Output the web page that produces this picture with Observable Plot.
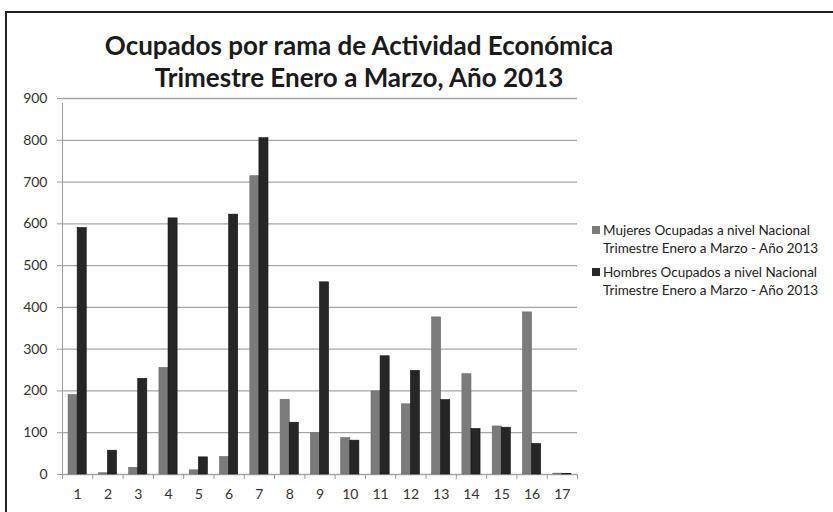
<!DOCTYPE html>
<html>
<head>
<meta charset="utf-8">
<script src="https://cdn.jsdelivr.net/npm/d3@7"></script>
<script src="https://cdn.jsdelivr.net/npm/@observablehq/plot@0.6"></script>
<style>
  html, body { margin: 0; padding: 0; background: #fff; }
  #wrap { position: relative; width: 833px; height: 512px; overflow: hidden; font-family: Lato, "Open Sans", sans-serif; }
  #border { position: absolute; left: 5px; top: 11px; width: 900px; height: 600px; border: 2px solid #222; box-sizing: border-box; }
  #title { position: absolute; left: 0; width: 718px; top: 29px; text-align: center; font-weight: bold; font-size: 26px; line-height: 32px; color: #1a1a1a; }
  #legend { position: absolute; left: 592px; top: 221px; font-size: 13.5px; line-height: 18px; color: #222; }
  .item { position: relative; padding-left: 11px; margin-bottom: 6px; }
  .sw { position: absolute; left: 0; top: 5px; width: 8px; height: 8px; }
  svg { position: absolute; left: 0; top: 0; }
</style>
</head>
<body>
<div id="wrap">
  <div id="border"></div>
  <div id="title">Ocupados por rama de Actividad Económica<br>Trimestre Enero a Marzo, Año 2013</div>
  <div id="legend"></div>
</div>
<script>
const categories = ["1","2","3","4","5","6","7","8","9","10","11","12","13","14","15","16","17"];
const mujeres = [190, 3, 16, 255, 10, 42, 714, 179, 99, 87, 199, 168, 376, 240, 115, 388, 2];
const hombres = [590, 57, 229, 613, 41, 622, 805, 124, 460, 81, 283, 248, 178, 109, 112, 73, 1];
const seriesNames = [
  "Mujeres Ocupadas a nivel Nacional Trimestre Enero a Marzo - Año 2013",
  "Hombres Ocupados a nivel Nacional Trimestre Enero a Marzo - Año 2013"
];
const seriesColors = ["#7b7b7b", "#262626"];
const yTicks = [0, 100, 200, 300, 400, 500, 600, 700, 800, 900];

const dataM = categories.map((c, i) => ({cat: c, value: mujeres[i]}));
const dataH = categories.map((c, i) => ({cat: c, value: hombres[i]}));

const W = 833, H = 512;
const mL = 62, mR = 256, mT = 98, mB = 38;
const step = (W - mL - mR) / categories.length;

const plot = Plot.plot({
  width: W,
  height: H,
  marginLeft: mL,
  marginRight: mR,
  marginTop: mT,
  marginBottom: mB,
  style: {fontFamily: "Lato, 'Open Sans', sans-serif", fontSize: "14px", color: "#333", background: "transparent"},
  x: {domain: categories, paddingInner: 0.4, paddingOuter: 0.2, round: false, label: null},
  y: {domain: [0, 900], label: null},
  marks: [
    Plot.ruleY(yTicks, {stroke: "#a6a6a6", strokeWidth: 1.3}),
    Plot.barY(dataM, {x: "cat", y: "value", fill: seriesColors[0], insetRight: step * 0.3, stroke: "#6a6a6a", strokeWidth: 0.6}),
    Plot.barY(dataH, {x: "cat", y: "value", fill: seriesColors[1], insetLeft: step * 0.3, stroke: "#111", strokeWidth: 0.6}),
    Plot.ruleX(categories, {x: d => d, y1: 0, y2: 0, dx: -step / 2, insetBottom: -5, stroke: "#9a9a9a"}),
    Plot.ruleX([categories[categories.length - 1]], {x: d => d, y1: 0, y2: 0, dx: step / 2, insetBottom: -5, stroke: "#9a9a9a"}),
    Plot.ruleX([categories[0]], {x: d => d, y1: 0, y2: 900, dx: -step / 2, insetBottom: -5, stroke: "#9a9a9a"}),
    Plot.axisY({ticks: yTicks, tickSize: 5, tickPadding: 10, stroke: "#9a9a9a", fill: "#333", fontSize: 14, tickFormat: d => String(d)}),
    Plot.axisX({tickSize: 0, tickPadding: 15, fill: "#333", fontSize: 14})
  ]
});
document.getElementById("wrap").appendChild(plot);

const legend = document.getElementById("legend");
seriesNames.forEach((name, i) => {
  const parts = name.split(" Trimestre");
  const div = document.createElement("div");
  div.className = "item";
  div.innerHTML = `<span class="sw" style="background:${seriesColors[i]}"></span>${parts[0]}<br>Trimestre${parts[1]}`;
  legend.appendChild(div);
});
</script>
</body>
</html>
